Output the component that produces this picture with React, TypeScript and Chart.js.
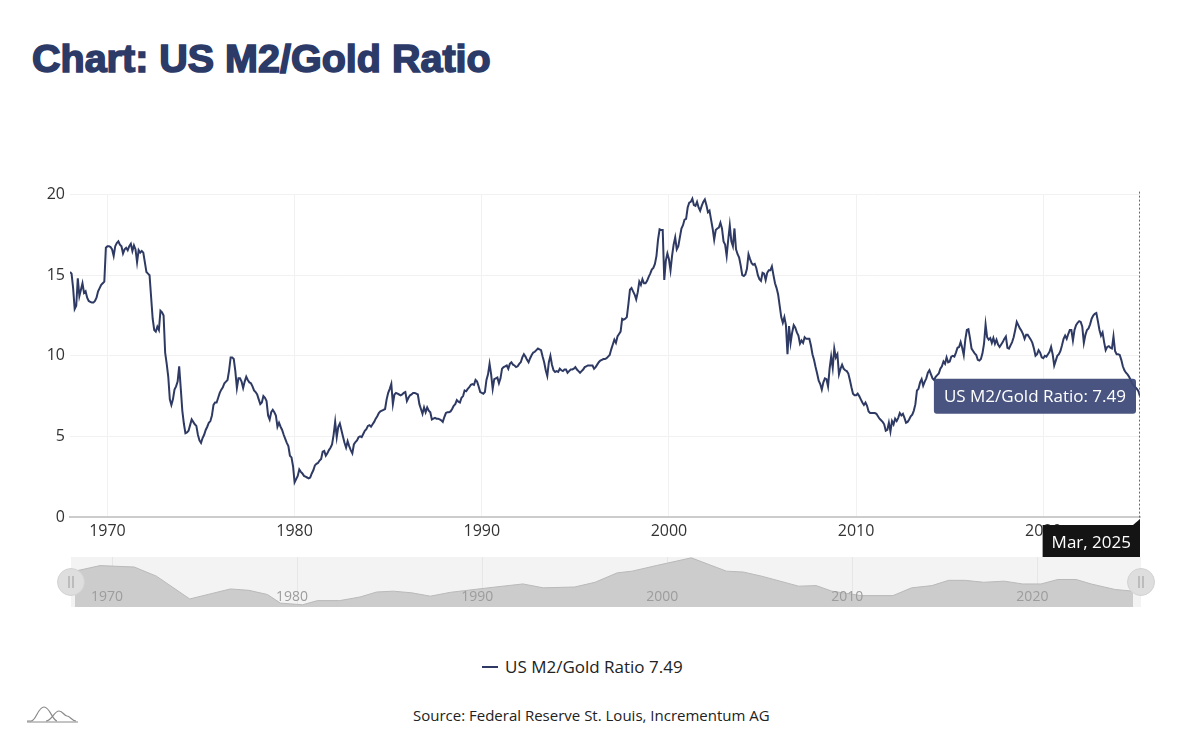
import { useEffect, useRef } from 'react';
import { Chart, registerables } from 'chart.js';

Chart.register(...registerables);

const seriesName = 'US M2/Gold Ratio';
const sourceText = 'Source: Federal Reserve St. Louis, Incrementum AG';
const monthNames = ['Jan', 'Feb', 'Mar', 'Apr', 'May', 'Jun', 'Jul', 'Aug', 'Sep', 'Oct', 'Nov', 'Dec'];
const startYear = 1968;

// monthly values, Jan 1968 .. Dec 1979
const ratio1968to1979 = [
  15.2, 15.1, 14.2, 12.9, 13.1, 14.8, 13.7, 14.1, 14.5, 13.9, 14.0, 13.6,
  13.4, 13.35, 13.3, 13.3, 13.4, 13.6, 14.0, 14.2, 14.4, 14.5, 14.6, 16.7,
  16.8, 16.8, 16.75, 16.6, 16.2, 16.8, 17.0, 17.1, 16.9, 16.8, 16.35, 16.6,
  16.7, 16.55, 16.8, 16.95, 16.5, 16.85, 16.6, 15.8, 16.55, 16.4, 16.5, 16.4,
  15.8, 15.2, 15.1, 15.0, 13.65, 12.3, 11.6, 11.5, 11.8, 11.6, 12.8, 12.7,
  12.5, 10.2, 9.5, 8.7, 7.3, 6.95, 7.3, 7.9, 8.1, 8.4, 9.35, 8.0,
  6.6, 5.8, 5.2, 5.25, 5.35, 5.7, 6.05, 5.9, 5.75, 5.65, 5.1, 4.75,
  4.6, 4.9, 5.1, 5.4, 5.6, 5.85, 5.95, 6.3, 6.95, 7.1, 7.1, 7.4,
  7.7, 7.9, 8.05, 8.3, 8.4, 8.5, 9.1, 9.9, 9.9, 9.8, 9.05, 8.0,
  8.6, 8.6, 8.4, 8.0, 8.4, 8.7, 8.5, 8.35, 8.3, 8.1, 7.85, 7.75,
  7.6, 7.3, 7.0, 7.1, 7.5, 7.4, 7.2, 6.3, 6.05, 6.5, 6.65, 6.5,
  6.3, 5.6, 5.85, 5.6, 5.4, 5.1, 4.85, 4.6, 4.4, 3.8, 3.7, 3.15,
];

// Jan 1980 .. Dec 1989
const ratio1980to1989 = [
  2.15, 2.35, 2.55, 2.95, 2.8, 2.7, 2.55, 2.5, 2.45, 2.4, 2.45, 2.7,
  2.9, 3.2, 3.3, 3.35, 3.5, 3.6, 4.05, 4.1, 3.8, 3.95, 4.15, 4.3,
  4.5, 5.1, 5.9, 4.95, 5.6, 5.8, 5.4, 5.0, 4.6, 4.3, 4.7, 4.4,
  4.15, 3.95, 4.5, 4.65, 4.75, 4.95, 5.0, 4.95, 5.15, 5.35, 5.45, 5.65,
  5.7, 5.6, 5.75, 5.9, 6.1, 6.25, 6.45, 6.55, 6.6, 6.65, 6.7, 7.3,
  7.7, 7.95, 8.25, 7.0, 7.6, 7.7, 7.65, 7.6, 7.55, 7.6, 7.7, 7.75,
  7.2, 7.4, 7.55, 7.6, 7.7, 7.7, 7.65, 7.6, 7.0, 6.7, 6.4, 6.8,
  6.5, 6.8, 6.6, 6.5, 6.05, 6.1, 6.15, 6.1, 6.1, 6.05, 6.0, 5.9,
  6.2, 6.45, 6.5, 6.5, 6.55, 6.7, 6.9, 7.0, 7.25, 7.15, 7.1, 7.4,
  7.5, 7.85, 7.8, 7.95, 8.05, 8.2, 8.25, 8.2, 8.5, 8.4, 8.1, 7.75,
];

// Jan 1990 .. Dec 1999
const ratio1990to1999 = [
  7.7, 7.65, 7.75, 8.5, 8.85, 9.5, 8.85, 7.95, 8.55, 8.6, 8.65, 8.3,
  8.6, 9.2, 9.3, 9.35, 9.4, 9.2, 9.5, 9.6, 9.45, 9.4, 9.3, 9.35,
  9.5, 9.6, 9.9, 10.1, 9.95, 9.75, 9.6, 9.85, 10.05, 10.2, 10.25, 10.35,
  10.45, 10.4, 10.35, 9.95, 9.6, 9.1, 8.75, 9.6, 10.0, 9.45, 9.1, 9.0,
  9.05, 9.0, 9.2, 9.1, 9.05, 9.15, 9.15, 8.95, 9.05, 9.15, 9.15, 9.2,
  9.3, 9.15, 9.05, 8.95, 9.05, 9.15, 9.3, 9.35, 9.4, 9.4, 9.4, 9.4,
  9.2, 9.3, 9.45, 9.6, 9.7, 9.75, 9.8, 9.8, 9.85, 9.95, 10.05, 10.4,
  10.7, 11.0, 10.8, 11.2, 11.35, 11.5, 12.3, 12.25, 12.3, 12.4, 13.2, 14.1,
  14.2, 14.0, 13.8, 13.5, 13.95, 14.6, 14.4, 14.75, 14.5, 14.5, 14.65, 14.9,
  15.1, 15.35, 15.45, 15.7, 16.2, 17.2, 17.85, 17.8, 17.8, 14.7, 15.9, 16.35,
];

// Jan 2000 .. Dec 2009
const ratio2000to2009 = [
  16.0, 15.3, 16.2, 16.9, 17.35, 16.6, 16.8, 17.35, 17.9, 18.1, 18.45, 18.5,
  19.2, 19.5, 19.55, 19.75, 19.35, 19.3, 19.55, 19.2, 19.0, 19.3, 19.55, 19.7,
  19.35, 18.9, 19.0, 18.45, 17.9, 17.2, 17.8, 17.9, 17.95, 18.25, 17.9, 17.1,
  16.9, 16.2, 17.2, 18.1, 17.1, 16.8, 17.9, 16.6, 16.3, 16.1, 15.6, 15.0,
  14.95, 15.05, 15.4, 16.3, 16.0, 15.75, 15.65, 15.7, 15.45, 15.0, 14.75, 14.65,
  15.15, 15.1, 14.7, 15.15, 15.3, 15.3, 15.55, 15.0, 14.5, 14.2, 13.8, 13.1,
  12.4, 12.05, 12.4, 11.9, 10.1, 11.85, 10.8, 11.45, 11.9, 11.75, 11.45, 11.25,
  10.75, 10.95, 10.8, 11.15, 11.05, 11.05, 11.05, 10.65, 10.1, 9.75, 9.3, 8.9,
  8.45, 8.25, 7.9, 8.35, 8.6, 8.55, 8.1, 9.2, 9.95, 9.25, 10.45, 9.9,
  10.1, 8.85, 9.2, 9.45, 9.2, 9.1, 9.05, 8.9, 8.5, 8.05, 7.65, 7.55,
];

// Jan 2010 .. Dec 2019
const ratio2010to2019 = [
  7.55, 7.65, 7.5, 7.3, 7.1, 6.95, 7.1, 6.9, 6.55, 6.45, 6.45, 6.45,
  6.45, 6.4, 6.25, 6.1, 6.0, 5.9, 5.75, 5.35, 5.4, 5.85, 5.3, 5.95,
  5.75, 6.1, 5.95, 6.15, 6.45, 6.3, 6.4, 6.15, 5.85, 5.9, 6.05, 6.25,
  6.35, 6.6, 7.0, 7.85, 7.95, 8.35, 8.55, 8.15, 8.4, 8.6, 8.95, 9.1,
  8.85, 8.6, 8.5, 8.7, 8.8, 8.9, 9.2, 9.35, 9.65, 9.5, 9.9, 9.6,
  9.65, 9.95, 10.0, 9.95, 10.2, 10.5, 10.55, 10.85, 10.5, 10.05, 11.0, 11.6,
  11.65, 11.1, 10.45, 10.3, 10.15, 10.05, 9.75, 9.7, 9.8, 10.15, 10.75, 11.95,
  11.15, 11.0, 11.1, 10.8, 11.1, 10.75, 11.0, 10.7, 10.55, 10.7, 10.85, 11.05,
  11.2, 10.5, 10.45, 10.65, 10.85, 11.15, 11.6, 12.1, 11.9, 11.7, 11.55, 11.35,
  11.05, 11.3, 11.3, 11.15, 11.0, 10.8, 10.45, 10.0, 10.1, 10.35, 10.2, 9.9,
];

// Jan 2020 .. Mar 2025
const ratio2020to2025 = [
  9.85, 10.0, 9.95, 10.1, 10.25, 10.55, 10.1, 9.4, 9.7, 10.0, 10.1, 10.3,
  10.65, 11.05, 11.25, 11.05, 11.35, 11.6, 11.6, 10.95, 11.6, 11.9, 12.05, 12.15,
  12.1, 11.8, 10.8, 11.3, 11.6, 11.7, 11.95, 12.3, 12.5, 12.6, 12.65, 12.15,
  11.6, 11.25, 11.45, 10.85, 10.35, 10.55, 10.6, 10.5, 10.45, 11.2, 10.3, 10.1,
  10.1, 10.05, 9.75, 9.35, 9.1, 8.95, 8.85, 8.7, 8.5, 8.3, 8.15, 8.05,
  7.95, 7.8, 7.49,
];

const ratioSeries = [
  ...ratio1968to1979,
  ...ratio1980to1989,
  ...ratio1990to1999,
  ...ratio2000to2009,
  ...ratio2010to2019,
  ...ratio2020to2025,
];

const yearTicks = [1970, 1980, 1990, 2000, 2010, 2020];

// overview strip under the chart (coarse shadow of the series)
const navYears = [
  1968.0, 1969.35, 1971.2, 1972.4, 1974.2, 1976.4, 1977.4, 1978.4, 1979.1, 1980.3,
  1981.1, 1982.3, 1983.4, 1984.3, 1985.2, 1986.2, 1987.2, 1988.3, 1990.6, 1992.2,
  1993.3, 1995.0, 1996.1, 1997.3, 1998.1, 1999.4, 2001.3, 2003.2, 2004.1, 2005.1,
  2007.1, 2008.05, 2008.9, 2010.5, 2012.2, 2013.2, 2014.3, 2015.2, 2016.1, 2017.1,
  2018.2, 2019.2, 2020.2, 2021.1, 2022.1, 2022.9, 2024.2, 2025.17,
];
const navValues = [
  14.9, 16.9, 16.4, 13.1, 4.9, 8.5, 8.0, 6.5, 3.4, 2.8,
  4.3, 4.3, 5.6, 7.4, 7.7, 7.1, 5.9, 7.3, 9.1, 10.3,
  8.9, 9.2, 10.9, 14.3, 14.9, 16.9, 19.7, 14.9, 14.6, 13.1,
  9.5, 9.7, 7.7, 6.1, 6.1, 8.9, 9.7, 11.6, 11.6, 10.9,
  11.3, 10.3, 10.3, 11.9, 11.9, 10.3, 8.3, 7.7,
];

const LINE = '#2e3a63';
const TITLE = '#2c3a68';
const FONT = '"Open Sans", "Noto Sans", sans-serif';
const lastIdx = ratioSeries.length - 1;
const lastX = startYear + lastIdx / 12;

const hoverOverlay = {
  id: 'hoverOverlay',
  afterDraw(chart: any) {
    const { ctx, chartArea } = chart;
    const pt = chart.getDatasetMeta(0).data[lastIdx];
    if (!pt) return;
    const px = Math.round(pt.x) - 0.5;
    ctx.save();

    // dotted crosshair
    ctx.strokeStyle = '#6a6a6a';
    ctx.lineWidth = 1;
    ctx.setLineDash([2, 2]);
    ctx.beginPath();
    ctx.moveTo(px, chartArea.top - 3);
    ctx.lineTo(px, chartArea.bottom + 8);
    ctx.stroke();
    ctx.setLineDash([]);

    // value tooltip
    ctx.font = `17px ${FONT}`;
    const text = `${seriesName}: ${ratioSeries[lastIdx].toFixed(2)}`;
    const w = ctx.measureText(text).width + 20;
    const h = 35;
    const bx = pt.x - 4 - w;
    const by = pt.y - h / 2;
    ctx.fillStyle = 'rgba(62, 74, 120, 0.94)';
    ctx.beginPath();
    ctx.roundRect(bx, by, w, h, 3);
    ctx.fill();
    ctx.fillStyle = '#ffffff';
    ctx.textBaseline = 'middle';
    ctx.textAlign = 'left';
    ctx.fillText(text, bx + 10, by + h / 2 + 1);

    // axis pointer label
    const lbl = `${monthNames[lastIdx % 12]}, ${startYear + Math.floor(lastIdx / 12)}`;
    const lw = ctx.measureText(lbl).width + 18;
    const lh = 35;
    const lx = pt.x - lw;
    const ly = chartArea.bottom + 8;
    ctx.fillStyle = '#141414';
    ctx.fillRect(lx, ly, lw, lh);
    ctx.beginPath();
    ctx.moveTo(pt.x - 7, ly);
    ctx.lineTo(pt.x, ly - 6);
    ctx.lineTo(pt.x, ly);
    ctx.fill();
    ctx.fillStyle = '#ffffff';
    ctx.textAlign = 'center';
    ctx.fillText(lbl, lx + lw / 2, ly + lh / 2 + 1);
    ctx.restore();
  },
};

const navDecor = {
  id: 'navDecor',
  beforeDatasetsDraw(chart: any) {
    const { ctx, chartArea, scales } = chart;
    ctx.save();
    ctx.strokeStyle = '#e6e6e6';
    ctx.lineWidth = 1;
    yearTicks.forEach((yr) => {
      const x = Math.round(scales.x.getPixelForValue(yr)) + 0.5;
      ctx.beginPath();
      ctx.moveTo(x, chartArea.top);
      ctx.lineTo(x, chartArea.bottom);
      ctx.stroke();
    });
    ctx.restore();
  },
  afterDatasetsDraw(chart: any) {
    const { ctx, chartArea, scales } = chart;
    ctx.save();
    ctx.font = `14px ${FONT}`;
    ctx.fillStyle = '#9c9c9c';
    ctx.textAlign = 'center';
    ctx.textBaseline = 'middle';
    yearTicks.forEach((yr) => {
      ctx.fillText(String(yr), scales.x.getPixelForValue(yr) - 5, chartArea.bottom - 10);
    });
    ctx.restore();
  },
};

function Handle({ cx }: { cx: number }) {
  return (
    <svg
      width={30}
      height={30}
      style={{ position: 'absolute', left: cx - 15, top: 567 }}
    >
      <circle cx={15} cy={15} r={13.5} fill="#dedede" stroke="#d2d2d2" strokeWidth={1} />
      <line x1={13} y1={9} x2={13} y2={21} stroke="#9a9a9a" strokeWidth={1} />
      <line x1={17} y1={9} x2={17} y2={21} stroke="#9a9a9a" strokeWidth={1} />
    </svg>
  );
}

export default function App() {
  const mainRef = useRef<HTMLCanvasElement>(null);
  const navRef = useRef<HTMLCanvasElement>(null);

  useEffect(() => {
    if (!mainRef.current || !navRef.current) return;

    const main = new Chart(mainRef.current, {
      type: 'line',
      data: {
        datasets: [
          {
            label: seriesName,
            data: ratioSeries.map((v, i) => ({ x: startYear + i / 12, y: v })),
            borderColor: LINE,
            borderWidth: 2,
            pointRadius: 0,
            tension: 0,
            fill: false,
          },
        ],
      },
      options: {
        animation: false,
        responsive: true,
        maintainAspectRatio: false,
        events: [],
        layout: { padding: { top: 13, right: 49, bottom: 0, left: 0 } },
        plugins: { legend: { display: false }, tooltip: { enabled: false } },
        scales: {
          x: {
            type: 'linear',
            min: startYear,
            max: lastX,
            afterBuildTicks: (s: any) => {
              s.ticks = yearTicks.map((v) => ({ value: v }));
            },
            afterFit: (s: any) => {
              s.height = 63;
            },
            grid: { color: '#f1f1f1', drawTicks: false },
            border: { display: true, color: '#cccccc', width: 2 },
            ticks: {
              padding: 5,
              color: '#333333',
              maxRotation: 0,
              autoSkip: false,
              font: { family: FONT, size: 16 },
              callback: (v: any) => String(v),
            },
          },
          y: {
            min: 0,
            max: 20,
            afterFit: (s: any) => {
              s.width = 70;
            },
            grid: { color: '#f1f1f1', drawTicks: false },
            border: { display: false },
            ticks: {
              stepSize: 5,
              padding: 5,
              color: '#333333',
              font: { family: FONT, size: 16 },
            },
          },
        },
      },
      plugins: [hoverOverlay],
    });

    const nav = new Chart(navRef.current, {
      type: 'line',
      data: {
        datasets: [
          {
            data: navYears.map((x, i) => ({ x, y: navValues[i] })),
            borderColor: '#b9b9b9',
            borderWidth: 1,
            backgroundColor: '#cccccc',
            fill: 'start',
            pointRadius: 0,
            tension: 0,
          },
        ],
      },
      options: {
        animation: false,
        responsive: true,
        maintainAspectRatio: false,
        events: [],
        layout: { padding: 0 },
        plugins: { legend: { display: false }, tooltip: { enabled: false } },
        scales: {
          x: { type: 'linear', display: false, min: startYear, max: lastX },
          y: { display: false, min: 2, max: 20 },
        },
      },
      plugins: [navDecor],
    });

    return () => {
      main.destroy();
      nav.destroy();
    };
  }, []);

  return (
    <div
      style={{
        position: 'absolute',
        left: 0,
        top: 0,
        width: 1189,
        height: 742,
        background: '#ffffff',
        overflow: 'hidden',
        fontFamily: FONT,
      }}
    >
      <div
        style={{
          position: 'absolute',
          left: 32,
          top: 38,
          fontFamily: '"Liberation Sans", Arial, sans-serif',
          fontWeight: 700,
          fontSize: 39.5,
          lineHeight: '40px',
          color: TITLE,
          WebkitTextStroke: `1.6px ${TITLE}`,
          paintOrder: 'stroke fill',
          whiteSpace: 'nowrap',
        }}
      >
        Chart: US M2/Gold Ratio
      </div>

      <div style={{ position: 'absolute', left: 0, top: 180, width: 1189, height: 400 }}>
        <canvas ref={mainRef} />
      </div>

      <div
        style={{
          position: 'absolute',
          left: 71,
          top: 557,
          width: 1070,
          height: 50,
          background: '#f3f3f3',
        }}
      />
      <div style={{ position: 'absolute', left: 75, top: 557, width: 1058, height: 50 }}>
        <canvas ref={navRef} />
      </div>
      <Handle cx={71} />
      <Handle cx={1141} />

      <div
        style={{
          position: 'absolute',
          left: 482,
          top: 657,
          height: 20,
          display: 'flex',
          alignItems: 'center',
          whiteSpace: 'nowrap',
        }}
      >
        <span style={{ display: 'inline-block', width: 16, height: 2.5, background: LINE, marginRight: 7 }} />
        <span style={{ fontSize: 17, lineHeight: '20px', color: '#222222' }}>
          {seriesName} {ratioSeries[lastIdx].toFixed(2)}
        </span>
      </div>

      <div
        style={{
          position: 'absolute',
          left: 413,
          top: 705,
          fontSize: 15,
          lineHeight: '20px',
          color: '#222222',
          whiteSpace: 'nowrap',
        }}
      >
        {sourceText}
      </div>

      <svg width={54} height={22} style={{ position: 'absolute', left: 26, top: 703 }}>
        <path
          d="M1 18 L5 18 C10 18 12 4 18 4 C24 4 26 17 31 18"
          fill="none"
          stroke="#8a8a8a"
          strokeWidth={1.2}
        />
        <path
          d="M20 18 C26 18 28 8 33 8 C37 8 38 13 41 13 C44 13 46 18 50 18"
          fill="none"
          stroke="#8a8a8a"
          strokeWidth={1.2}
        />
        <line x1={1} y1={19} x2={52} y2={19} stroke="#8a8a8a" strokeWidth={1.2} />
      </svg>
    </div>
  );
}
